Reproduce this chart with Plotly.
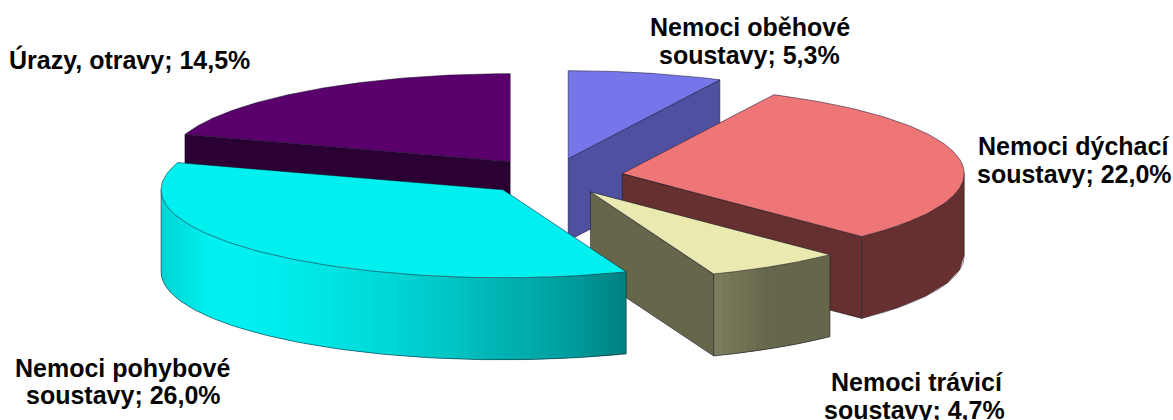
import numpy as np
import plotly.graph_objects as go

categories = ["Nemoci oběhové soustavy", "Nemoci dýchací soustavy", "Nemoci trávicí soustavy",
              "Nemoci pohybové soustavy", "Úrazy, otravy"]
values = [5.3, 22.0, 4.7, 26.0, 14.5]
label_lines = ["Nemoci oběhové", "soustavy; 5,3%", "Nemoci dýchací", "soustavy; 22,0%",
               "Nemoci trávicí", "soustavy; 4,7%", "Nemoci pohybové", "soustavy; 26,0%",
               "Úrazy, otravy; 14,5%"]
label_x = [750, 749, 1073, 1074, 917, 914, 122, 123, 129]
label_y = [27, 55, 146, 174, 382, 410, 368, 395, 59]

top_colors = ["#7676EA", "#EE7676", "#EAEAB0", "#00EFEF", "#5A006C"]
side_colors = ["#5050A0", "#663030", "#66664A", "#00A0A0", "#2B0033"]
# wall colours from the right end of a wall to its left end
arc_stops = [None, ["#663030"], ["#66664A", "#66664A", "#7E7E5E"],
             ["#008080", "#009898", "#00AAAA", "#00B8B8", "#00C8C8", "#00D6D6",
              "#00E0E0", "#00EAEA", "#00EFEF", "#00EFEF", "#00D4D4"], None]
draw_order = [0, 4, 1, 2, 3]

CX, CY, RX, RY, DEPTH, EXPLODE = 552, 176.5, 342, 88, 82, 0.208
EDGE = "rgba(20,20,40,0.75)"


def pt(ang, r=1.0, ox=0.0, oy=0.0):
    return ox + r * RX * np.sin(ang), oy - r * RY * np.cos(ang)


def rgb(h):
    return np.array([int(h[i:i + 2], 16) for i in (1, 3, 5)], float)


def ramp(stops, t):
    if len(stops) == 1:
        return stops[0]
    p = t * (len(stops) - 1)
    k = min(int(p), len(stops) - 2)
    c = rgb(stops[k]) * (1 - (p - k)) + rgb(stops[k + 1]) * (p - k)
    return "#%02x%02x%02x" % tuple(int(v) for v in c)


fig = go.Figure()


def poly(xs, ys, fill, line=EDGE, width=0.7, name=None):
    fig.add_trace(go.Scatter(x=list(xs), y=list(ys), mode="lines", fill="toself", fillcolor=fill,
                             line=dict(color=line, width=width), hoverinfo="text" if name else "skip",
                             text=name, showlegend=False))


total = sum(values)
edges = np.cumsum([0] + values) / total * 2 * np.pi

for i in draw_order:
    a0, a1 = edges[i], edges[i + 1]
    mid = (a0 + a1) / 2
    ox, oy = pt(mid, EXPLODE, CX, CY)
    name = categories[i]

    # radial walls facing the viewer
    for a, visible in ((a0, np.sin(a0) < -1e-6), (a1, np.sin(a1) > 1e-6)):
        if visible:
            px, py = pt(a, 1.0, ox, oy)
            poly([ox, px, px, ox, ox], [oy, py, py + DEPTH, oy + DEPTH, oy], side_colors[i], name=name)

    # outer wall, shaded from strip to strip
    lo, hi = max(a0, np.pi / 2), min(a1, 3 * np.pi / 2)
    if hi > lo:
        stops = arc_stops[i]
        n = 1 if len(stops) == 1 else max(2, int((hi - lo) / np.radians(1.5)))
        ts = np.linspace(lo, hi, n + 1)
        xa, _ = pt(lo, 1.0, ox, oy)
        xb, _ = pt(hi, 1.0, ox, oy)
        for j in range(n):
            seg = np.linspace(ts[j], ts[min(j + 2, n)], 6)
            sx, sy = pt(seg, 1.0, ox, oy)
            x0, _ = pt(ts[j], 1.0, ox, oy)
            x1, _ = pt(ts[j + 1], 1.0, ox, oy)
            c = ramp(stops, abs(((x0 + x1) / 2 - xa) / (xb - xa)))
            poly(np.r_[sx, sx[::-1], sx[0]], np.r_[sy, sy[::-1] + DEPTH, sy[0]], c, line=c, width=0)
        ts2 = np.linspace(lo, hi, 120)
        ax, ay = pt(ts2, 1.0, ox, oy)
        fig.add_trace(go.Scatter(x=ax, y=ay + DEPTH, mode="lines", line=dict(color=EDGE, width=0.7),
                                 hoverinfo="skip", showlegend=False))
        for xv, yv in ((ax[0], ay[0]), (ax[-1], ay[-1])):
            fig.add_trace(go.Scatter(x=[xv, xv], y=[yv, yv + DEPTH], mode="lines",
                                     line=dict(color=EDGE, width=0.7), hoverinfo="skip", showlegend=False))

    # top face
    ts3 = np.linspace(a0, a1, 120)
    ax, ay = pt(ts3, 1.0, ox, oy)
    poly(np.r_[ox, ax, ox], np.r_[oy, ay, oy], top_colors[i], name=name)

for text, x, y in zip(label_lines, label_x, label_y):
    fig.add_annotation(x=x, y=y, text=text, showarrow=False, xanchor="center", yanchor="middle",
                       align="center", font=dict(family="Liberation Sans", size=25, color="#050505",
                                                 weight="bold"))

fig.update_layout(width=1173, height=420, margin=dict(l=0, r=0, t=0, b=0), paper_bgcolor="white",
                  plot_bgcolor="white", showlegend=False,
                  xaxis=dict(range=[0, 1173], visible=False, fixedrange=True),
                  yaxis=dict(range=[420, 0], visible=False, fixedrange=True))
fig.write_html("out.html", config=dict(displayModeBar=False),
               post_script="document.body.style.margin='0';document.documentElement.style.overflow='hidden';")
